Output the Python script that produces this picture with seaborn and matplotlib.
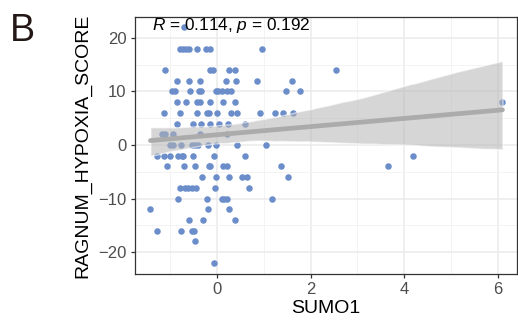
import matplotlib
matplotlib.use("Agg")
import matplotlib.pyplot as plt
from matplotlib.collections import PolyCollection
import seaborn as sns
import pandas as pd

# SUMO1 expression vs RAGNUM hypoxia score
sumo1 = [
    -0.70,
    -0.78, -0.72, -0.66, -0.60, -0.43, -0.24, -0.15, 0.97,
    -1.11, -0.15, -0.08, 0.26, 0.38, 2.54,
    -0.86, -0.59, -0.36, 0.19, 0.41, 0.85, 1.61,
    -0.95, -0.90, -0.58, -0.38, -0.34, -0.02, 0.03, 0.10, 0.21, 0.31, 1.47, 1.77,
    -0.86, -0.65, -0.43, -0.36, -0.15, 0.13, 0.38, 6.10,
    -1.13, -0.78, -0.43, -0.22, -0.17, 0.01, 0.31, 0.43, 0.92, 1.24, 1.42, 1.63,
    -0.86, -0.51, -0.33, -0.15, 0.05, 0.24, 0.60,
    -1.18, -1.11, -0.93, -0.36, 0.21,
    -1.00, -0.93, -0.77, -0.54, -0.47, -0.40, -0.20, -0.02, 0.43, 1.04,
    -1.27, -1.13, -1.00, -0.83, -0.75, -0.72, -0.52, -0.06, 0.60, 4.18,
    -1.07, -0.71, -0.47, -0.17, -0.14, 0.14, 0.22, 1.36, 3.66,
    -0.31, -0.03, 0.26, 0.54, 0.65, 1.52,
    -0.79, -0.68, -0.61, -0.54, -0.45, -0.04, 0.69,
    -0.84, -0.22, 0.10, 0.15, 0.21, 1.18,
    -1.42, -0.20, 0.26,
    -0.60, -0.29, 0.39,
    -1.27, -0.77, -0.54, -0.49,
    -0.46,
    -0.06,
]
hypoxia_score = (
    [22]
    + [18] * 8
    + [14] * 6
    + [12] * 7
    + [10] * 12
    + [8] * 8
    + [6] * 12
    + [4] * 7
    + [2] * 5
    + [0] * 10
    + [-2] * 10
    + [-4] * 9
    + [-6] * 6
    + [-8] * 7
    + [-10] * 6
    + [-12] * 3
    + [-14] * 3
    + [-16] * 4
    + [-18]
    + [-22]
)

x_ticks = [0, 2, 4, 6]
y_ticks = [-20, -10, 0, 10, 20]
stat_label = r"$\it{R}$ = 0.114, $\it{p}$ = 0.192"

df = pd.DataFrame({"SUMO1": sumo1, "RAGNUM_HYPOXIA_SCORE": hypoxia_score})

sns.set_theme(style="whitegrid")
plt.rcParams["font.family"] = ["Liberation Sans", "DejaVu Sans"]
plt.rcParams["mathtext.fontset"] = "custom"
plt.rcParams["mathtext.rm"] = "Liberation Sans"
plt.rcParams["mathtext.it"] = "Liberation Sans:italic"

fig = plt.figure(figsize=(5.18, 3.21), dpi=100)
ax = fig.add_axes([0.2606, 0.1464, 0.7374, 0.8006])

sns.regplot(
    data=df,
    x="SUMO1",
    y="RAGNUM_HYPOXIA_SCORE",
    ax=ax,
    ci=95,
    scatter_kws=dict(s=22, color="#6B8DC9", linewidths=0, alpha=1, zorder=3),
    line_kws=dict(color="#ABABAB", lw=3.4, zorder=5),
)

for coll in ax.collections:
    if isinstance(coll, PolyCollection):
        coll.set_facecolor("#B5B5B5")
        coll.set_alpha(0.55)
        coll.set_zorder(4)

ax.set_xlim(-1.75, 6.41)
ax.set_ylim(-24.1, 23.9)
ax.set_xticks(x_ticks)
ax.set_yticks(y_ticks)
ax.set_xticks([-1, 1, 3, 5], minor=True)
ax.set_yticks([-15, -5, 5, 15], minor=True)

ax.set_facecolor("white")
ax.grid(which="major", color="#EBEBEB", lw=1.1)
ax.grid(which="minor", color="#F3F3F3", lw=0.7)
ax.set_axisbelow(True)

for sp in ax.spines.values():
    sp.set_color("#333333")
    sp.set_linewidth(0.9)

ax.tick_params(which="major", length=3, width=0.9, color="#333333",
               labelsize=12, labelcolor="#4D4D4D", pad=3,
               bottom=True, left=True)
ax.tick_params(which="minor", length=0)

ax.set_xlabel("SUMO1", fontsize=14, color="black", labelpad=2)
ax.set_ylabel("RAGNUM_HYPOXIA_SCORE", fontsize=14, color="black", labelpad=5)

ax.text(-1.39, 22.3, stat_label, fontsize=12.4, color="black",
        ha="left", va="center", zorder=6)

fig.text(0.02, 0.96, "B", fontsize=27, color="#231815", ha="left", va="top")

fig.savefig("out.png", dpi=100)
plt.close(fig)
